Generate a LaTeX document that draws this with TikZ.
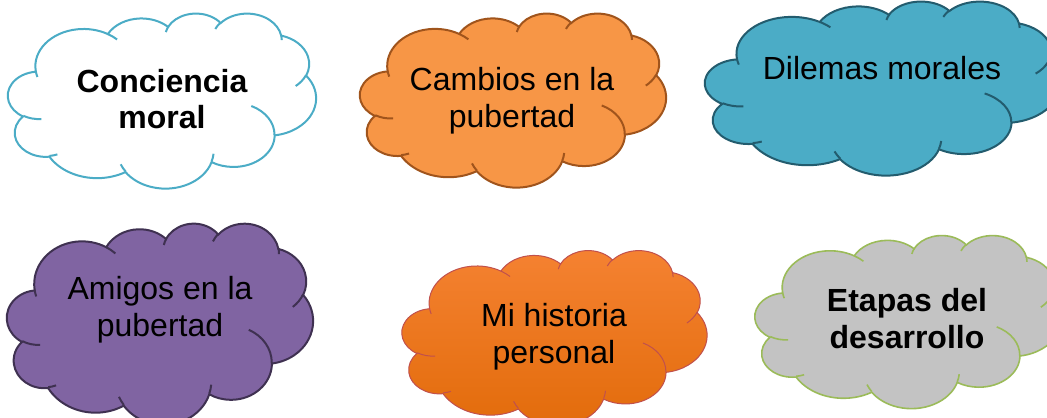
\documentclass[tikz,border=0pt]{standalone}
\usepackage{fontspec}
\setmainfont{Liberation Sans}
\definecolor{azulc}{HTML}{4BACC6}
\definecolor{azulo}{HTML}{235C6E}
\definecolor{naranja}{HTML}{F79646}
\definecolor{cafe}{HTML}{A0541C}
\definecolor{morado}{HTML}{8064A2}
\definecolor{moradol}{HTML}{3F3151}
\definecolor{narA}{HTML}{F58232}
\definecolor{narB}{HTML}{E26B0A}
\definecolor{rojizo}{HTML}{C0504D}
\definecolor{gris}{HTML}{C3C3C3}
\definecolor{verde}{HTML}{9BBB59}
\tikzset{
  % arc given as radii, start angle and sweep as seen from the centre
  ca/.code n args={4}{%
    \pgfmathsetmacro\cldS{atan2(#1*sin(#3),#2*cos(#3))}%
    \pgfmathsetmacro\cldE{atan2(#1*sin(#3+#4),#2*cos(#3+#4))}%
    \pgfmathsetmacro\cldD{mod(\cldE-\cldS+720,360)}%
    \edef\cldtmp{\noexpand\tikzset{x radius=#1,y radius=#2,start angle=\cldS,delta angle=\cldD}}%
    \cldtmp
  },
  pics/nube/.style n args={3}{code={
    \begin{scope}[x=1pt, y=1pt, xscale=0.75*#1/43.2, yscale=-0.75*#2/43.2]
      \path[pic actions,#3] (3.9,14.37)
        arc[ca={6.753}{9.19}{-190.4875}{123.7805}]
        arc[ca={5.333}{7.267}{-144.1024}{89.9452}]
        arc[ca={4.365}{5.945}{-145.8079}{99.723}]
        arc[ca={4.857}{6.595}{-130.9861}{117.2417}]
        arc[ca={5.333}{7.273}{-78.7089}{109.0269}]
        arc[ca={6.775}{9.22}{-46.2673}{130.269}]
        arc[ca={5.785}{7.867}{0.625}{114.0333}]
        arc[ca={6.752}{9.215}{22.4516}{115.1726}]
        arc[ca={7.72}{10.543}{66.2426}{75.711}]
        arc[ca={4.36}{5.918}{-274.9421}{146.7356}]
        arc[ca={4.345}{5.945}{-246.8285}{152.5189}]
        -- cycle;
      \path[pic actions, fill=none]
        (4.693,26.177) arc[ca={4.345}{5.945}{86.742}{26.4295}]
        (6.928,34.899) arc[ca={4.36}{5.918}{73.6105}{11.4475}]
        (16.478,39.09) arc[ca={6.752}{9.215}{137.6242}{14.0811}]
        (28.827,34.751) arc[ca={6.752}{9.215}{6.4533}{15.9984}]
        (34.129,22.954) arc[ca={5.785}{7.867}{-70.2924}{70.9174}]
        (41.798,15.354) arc[ca={5.333}{7.273}{30.318}{27.7515}]
        (38.324,5.426) arc[ca={4.857}{6.595}{-13.7443}{14.8589}]
        (29.078,3.952) arc[ca={4.857}{6.595}{-149.1815}{18.1954}]
        (22.141,4.72) arc[ca={4.365}{5.945}{-163.4943}{17.6864}]
        (14,5.192) arc[ca={6.753}{9.19}{-66.707}{12.3194}]
        (4.127,15.789) arc[ca={6.753}{9.19}{157.6544}{11.8582}];
    \end{scope}
  }},
  lbl/.style={align=center, inner sep=0pt, font=\fontsize{24}{27.6}\selectfont},
  lblb/.style={lbl, font=\fontsize{24}{27.6}\selectfont\bfseries},
}
\begin{document}
\begin{tikzpicture}[x=0.75pt, y=-0.75pt]
  \useasboundingbox (0,0) rectangle (1047,418);
  \clip (0,0) rectangle (1047,418);
  % clouds
  \pic[draw=azulc, line width=1.5pt] at (8,13) {nube={308}{175}{fill=white}};
  \pic[draw=cafe, line width=1.5pt] at (360,13) {nube={306}{174}{fill=naranja}};
  \pic[draw=azulo, line width=1.5pt] at (705,1) {nube={354}{174}{fill=azulc}};
  \pic[draw=moradol, line width=1.5pt] at (7,223) {nube={306}{201}{fill=morado}};
  \pic[draw=rojizo, line width=0.75pt] at (402,250) {nube={305}{175}{top color=narA, bottom color=narB}};
  \pic[draw=verde, line width=1.2pt] at (755,235) {nube={306}{173}{fill=gris}};
  % texts
  \node[lblb] (conc) at (162,99) {Conciencia\\moral};
  \node[lbl] (camb) at (512,101) {Cambios en la\\pubertad};
  \node[lbl] (dil) at (882,68.5) {Dilemas morales};
  \node[lbl] (amig) at (160,310) {Amigos en la\\pubertad};
  \node[lbl] (hist) at (554,337) {Mi historia\\personal};
  \node[lblb] (etap) at (907,318.5) {Etapas del\\desarrollo};
\end{tikzpicture}
\end{document}
